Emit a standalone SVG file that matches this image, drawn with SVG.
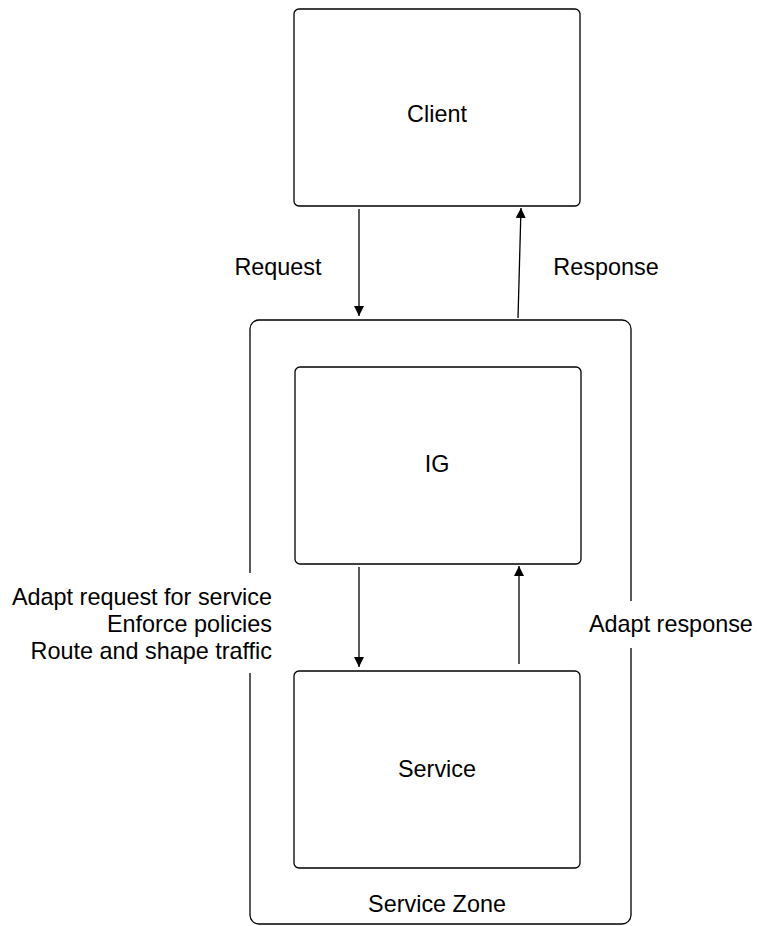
<svg xmlns="http://www.w3.org/2000/svg" width="757" height="926" viewBox="0 0 757 926">
<style>
.box{fill:#fff;stroke:#000;stroke-width:1.3}
.zone{fill:none;stroke:#000;stroke-width:1.3}
.t{font-family:"Liberation Sans",Arial,sans-serif;font-size:23.4px;fill:#000}
.c{stroke:#000;stroke-width:1.3;fill:none}
.bg{fill:#fff}
</style>
<defs>
<marker id="ah" markerWidth="10" markerHeight="12" refX="10" refY="6" orient="auto" markerUnits="userSpaceOnUse">
<path d="M0,1 L10,6 L0,11 z" fill="#000"/>
</marker>
</defs>
<rect width="757" height="926" fill="#fff"/>
<g id="zone">
<rect class="zone" x="250" y="320" width="381" height="604" rx="9"/>
<rect class="bg" x="240" y="573" width="20" height="100"/>
<rect class="bg" x="620" y="601" width="20" height="47"/>
<text class="t" x="437" y="912" text-anchor="middle">Service Zone</text>
</g>
<g id="client">
<rect class="box" x="294" y="9" width="286" height="197" rx="5"/>
<text class="t" x="437" y="122" text-anchor="middle">Client</text>
</g>
<g id="ig">
<rect class="box" x="295" y="367" width="286" height="197" rx="5"/>
<text class="t" x="437" y="472" text-anchor="middle">IG</text>
</g>
<g id="service">
<rect class="box" x="294" y="671" width="286" height="197" rx="5"/>
<text class="t" x="437" y="777" text-anchor="middle">Service</text>
</g>
<g id="connectors">
<line class="c" x1="359" y1="209" x2="359" y2="316" marker-end="url(#ah)"/>
<line class="c" x1="518" y1="318" x2="521" y2="208" marker-end="url(#ah)"/>
<line class="c" x1="359" y1="567" x2="359" y2="667" marker-end="url(#ah)"/>
<line class="c" x1="519" y1="664" x2="519" y2="566" marker-end="url(#ah)"/>
</g>
<g id="labels">
<text class="t" x="278" y="275" text-anchor="middle">Request</text>
<text class="t" x="606" y="275" text-anchor="middle">Response</text>
<text class="t" x="272" y="605" text-anchor="end">Adapt request for service</text>
<text class="t" x="272" y="632" text-anchor="end">Enforce policies</text>
<text class="t" x="272" y="659" text-anchor="end">Route and shape traffic</text>
<text class="t" x="589" y="632">Adapt response</text>
</g>
</svg>
